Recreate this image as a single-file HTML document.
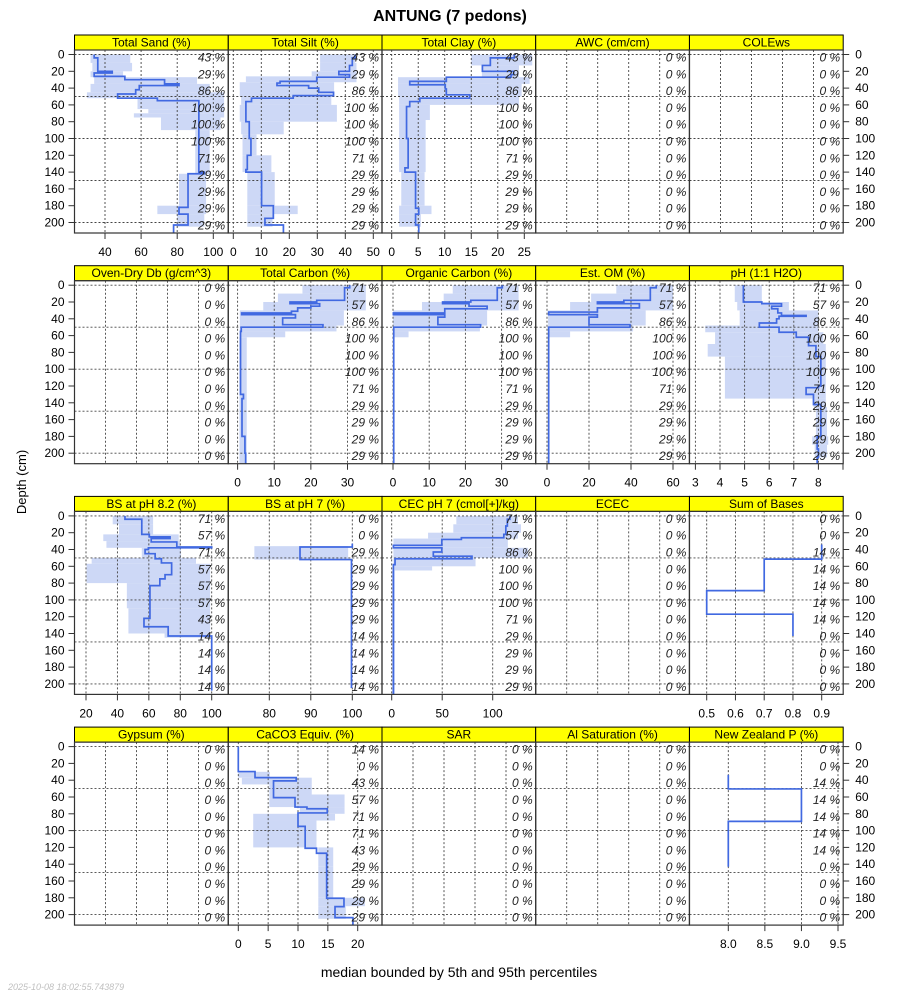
<!DOCTYPE html>
<html><head><meta charset="utf-8">
<style>
html,body{margin:0;padding:0;background:#fff;}
svg{display:block;font-family:"Liberation Sans",sans-serif;}
</style></head>
<body>
<svg id="chart" width="900" height="1000" viewBox="0 0 900 1000">
<text x="450" y="21" text-anchor="middle" font-size="16" font-weight="bold">ANTUNG (7 pedons)</text>
<text x="26" y="482" text-anchor="middle" font-size="13" transform="rotate(-90 26 482)">Depth (cm)</text>
<text x="459" y="977" text-anchor="middle" font-size="14">median bounded by 5th and 95th percentiles</text>
<text x="8" y="990" font-size="9" fill="#c0c0c0" font-style="italic">2025-10-08 18:02:55.743879</text>
<g id="panels"></g>
</svg>
<script>
// ---- data (depth breaks in cm, values) ----
const sandDepths=[0,4,13,20,22,26,30,35,37,42,47,52,55,100,140,142,182,190,203,213];
const sandMedian=[34,36,36,44,34,51,73,81,59,57,47,69,92,92,95,86,81,86,78];
const sandBandDepths=[0,10,20,27,35,45,52,65,70,75,90,140,142,180,190,205];
const sandP05=[32,33,32,34,32,30,58,64,56,71,90,90,81,69,80];
const sandP95=[54,55,50,91,98,106,106,106,106,104,98,98,96,96,95];
const sandPct=[43,29,86,100,100,100,71,29,29,29,29];

const siltDepths=[0,4,13,20,24,27,32,34,37,40,45,49,52,56,80,100,120,137,140,180,195,203,213];
const siltMedian=[43.5,42.5,41.5,37.7,41.5,29.8,16.7,15.6,26.9,30.5,35.8,21.4,6.5,4.5,5.7,6.3,5,4.5,10.1,14.3,11.3,17.9];
const siltBandDepths=[0,10,20,26,33,50,60,80,95,120,140,180,190,205];
const siltP05=[31,31,28,4.5,2.3,2.8,2.3,2.8,3.3,3.3,5,5,5];
const siltP95=[43.5,44,44,44,36,35,37,18,8.3,13.6,14.8,23,14];
const siltPct=[43,29,86,100,100,100,71,29,29,29,29];

const clayDepths=[0,4,13,20,24,27,32,36,41,48,52,56,62,100,135,140,183,190,203,213];
const clayMedian=[23.1,18.6,17.1,23,22.5,10.3,3.4,10.1,10.3,14.7,5.3,3.4,2.8,3.1,2.5,4.5,5.1,4.5,5.1];
const clayBandDepths=[0,13,27,35,50,60,78,140,180,190,205];
const clayP05=[15,17,1.2,1.2,1.4,1.4,1.4,1.8,1.4,1.4];
const clayP95=[26.5,24,26,24.5,24,7.2,6.4,6.2,7.5,5.5];
const clayPct=[43,29,86,100,100,100,71,29,29,29,29];

const tcDepths=[0,3,18,20,22,25,27,31,33,35,39,47,50,55,130,135,180,200,213];
const tcMedian=[30.6,29.2,21.6,14.3,22.4,20,16.4,14.7,1.1,15.8,12.3,23.3,1,0.8,1.6,1.2,2,2.2];
const tcBandDepths=[0,10,20,30,48,55,62,213];
const tcP05=[17.7,11,7,0.6,0.6,0.6,0.5];
const tcP95=[35,35,35,29,27,13,2.5];
const tcPct=[71,57,86,100,100,100,71,29,29,29,29];

const ocDepths=[0,3,18,20,22,25,28,33,35,38,47,50,213];
const ocMedian=[30.2,28.8,21.5,13.7,21,26,14.3,0.1,14.3,12.4,24.2,0.2];
const ocBandDepths=[0,10,20,30,48,55,62];
const ocP05=[16.5,14,8,0,0,0];
const ocP95=[34.7,34.7,34.7,26,24,4.3];
const ocPct=[71,57,86,100,100,100,71,29,29,29,29];

const omDepths=[0,3,18,20,22,27,32,35,38,47,50,213];
const omMedian=[52,49.2,36.6,24,44,24,0.8,24,20,39.5,0.8];
const omBandDepths=[0,10,20,30,48,55,62];
const omP05=[33,21,11,0.5,0.5,0.5];
const omP95=[60,60,60,47,41,11];
const omPct=[71,57,86,100,100,100,71,29,29,29,29];

const phDepths=[0,20,22,25,28,33,36,37,40,45,50,56,62,72,85,120,122,130,142,180,195,205,213];
const phMedian=[4.95,5.7,6.5,6.1,6.35,6.5,7.5,6.4,6.3,5.6,6.4,7.1,7.6,7.9,8.1,8.0,7.5,7.8,8.1,7.95,8.0,7.95];
const phBandDepths=[0,20,30,48,56,70,85,135,145,180,190,205];
const phP05=[4.6,4.7,4.8,3.4,3.8,3.5,4.2,7.8,7.9,7.75,7.85];
const phP95=[5.7,6.8,8.0,8.0,8.2,8.3,8.3,8.3,8.35,8.4,8.35];
const phPct=[71,57,86,100,100,100,71,29,29,29,29];

const bs82Depths=[0,4,22,25,27,31,37,38,40,45,51,56,70,75,83,122,132,143,208];
const bs82Median=[44.8,55.5,60.3,73.5,61.5,77.8,100,59.7,57.6,64,68,74.5,70.3,67,60.7,56.9,72.3,100];
const bs82BandDepths=[0,10,22,30,38,50,57,80,110,140,145];
const bs82P05=[37,41,31,33,55.5,23.6,20.4,46,47,70];
const bs82P95=[62.7,62.7,79,80,80.5,90,99,99,99,99];
const bs82Pct=[71,57,71,57,57,57,43,14,14,14,14];

const bs7Depths=[33,37,52,205];
const bs7Median=[100,87.4,99.8];
const bs7BandDepths=[36,52];
const bs7P05=[76.4];
const bs7P95=[99];
const bs7Pct=[0,0,29,29,29,29,29,14,14,14,14];

const cecDepths=[0,4,12,22,26,28,35,38,43,48,51,58,213];
const cecMedian=[117,114.5,113,111,69,49.6,1.7,49.6,41.2,79.5,3.3,1.7];
const cecBandDepths=[0,10,20,27,38,50,60,65,213];
const cecP05=[64,61,36,1.7,1.7,1.7,2.5,0.5];
const cecP95=[125,128,125,115,135,83,40,3];
const cecPct=[71,57,86,100,100,100,71,29,29,29,29];

const sobDepths=[34,51.5,89,117,143];
const sobMedian=[0.9,0.7,0.5,0.8];
const sobPct=[0,0,14,14,14,14,14,0,0,0,0];

const caco3Depths=[0,29.7,36.9,40.8,60.7,72,74,79,95,121,127,180.5,190.5,203.6,213];
const caco3Median=[0,2.8,9.7,5.9,9.5,11.5,14.9,10,11.2,13.1,14.8,17.7,16.2,19.2];
const caco3BandDepths=[30,37,45,57,72,80,88,120,143,180,190,205];
const caco3P05=[0,0.6,5.2,5.2,10.3,2.5,2.5,13.4,13.4,13.4,13.4];
const caco3P95=[5.3,12.3,12.3,17.8,17.8,16.2,13.1,15.9,15.9,21.2,18];
const caco3Pct=[14,0,43,57,71,71,43,29,29,29,29];

const nzpDepths=[33.7,50.4,89,143];
const nzpMedian=[8,9,8];
const nzpPct=[0,0,14,14,14,14,14,0,0,0,0];

const zeroPct=[0,0,0,0,0,0,0,0,0,0,0];
const depthTicks=[0,20,40,60,80,100,120,140,160,180,200];
const depthGrid=[0,50,100,150,200];

// ---- layout ----
const colX=[74.5,228.3,382,535.7,689.5], colW=153.7;
const rowT=[35,265.7,496.4,727.1];
const stripH=15, panelH=183;

const panels=[
 {key:'total-sand',title:'Total Sand (%)',c:0,r:0,sc:[40,105,100,213.3],ticks:[40,60,80,100],lab:true,d:sandDepths,m:sandMedian,bd:sandBandDepths,lo:sandP05,hi:sandP95,pct:sandPct},
 {key:'total-silt',title:'Total Silt (%)',c:1,r:0,sc:[0,233.3,50,373.3],ticks:[0,10,20,30,40,50],lab:true,d:siltDepths,m:siltMedian,bd:siltBandDepths,lo:siltP05,hi:siltP95,pct:siltPct},
 {key:'total-clay',title:'Total Clay (%)',c:2,r:0,sc:[0,391.7,25,524.3],ticks:[0,5,10,15,20,25],lab:true,d:clayDepths,m:clayMedian,bd:clayBandDepths,lo:clayP05,hi:clayP95,pct:clayPct},
 {key:'awc',title:'AWC (cm/cm)',c:3,r:0,pct:zeroPct},
 {key:'colews',title:'COLEws',c:4,r:0,pct:zeroPct},
 {key:'oven-dry-db',title:'Oven-Dry Db (g/cm^3)',c:0,r:1,pct:zeroPct},
 {key:'total-carbon',title:'Total Carbon (%)',c:1,r:1,sc:[0,237.6,30,347.5],ticks:[0,10,20,30],lab:true,d:tcDepths,m:tcMedian,bd:tcBandDepths,lo:tcP05,hi:tcP95,pct:tcPct},
 {key:'organic-carbon',title:'Organic Carbon (%)',c:2,r:1,sc:[0,393,30,501.6],ticks:[0,10,20,30],lab:true,d:ocDepths,m:ocMedian,bd:ocBandDepths,lo:ocP05,hi:ocP95,pct:ocPct},
 {key:'est-om',title:'Est. OM (%)',c:3,r:1,sc:[0,547,60,673],ticks:[0,20,40,60],lab:true,d:omDepths,m:omMedian,bd:omBandDepths,lo:omP05,hi:omP95,pct:omPct},
 {key:'ph',title:'pH (1:1 H2O)',c:4,r:1,sc:[3,695.4,8,818.4],ticks:[3,4,5,6,7,8,9],tl:['3','4','5','6','7','8',''],lab:true,d:phDepths,m:phMedian,bd:phBandDepths,lo:phP05,hi:phP95,pct:phPct},
 {key:'bs-ph82',title:'BS at pH 8.2 (%)',c:0,r:2,sc:[20,86,100,211.7],ticks:[20,40,60,80,100],lab:true,d:bs82Depths,m:bs82Median,bd:bs82BandDepths,lo:bs82P05,hi:bs82P95,pct:bs82Pct},
 {key:'bs-ph7',title:'BS at pH 7 (%)',c:1,r:2,sc:[80,269.3,100,352.3],ticks:[80,90,100],lab:true,d:bs7Depths,m:bs7Median,bd:bs7BandDepths,lo:bs7P05,hi:bs7P95,pct:bs7Pct},
 {key:'cec-ph7',title:'CEC pH 7 (cmol[+]/kg)',c:2,r:2,sc:[0,391.7,100,492.7],ticks:[0,50,100],lab:true,d:cecDepths,m:cecMedian,bd:cecBandDepths,lo:cecP05,hi:cecP95,pct:cecPct},
 {key:'ecec',title:'ECEC',c:3,r:2,pct:zeroPct},
 {key:'sum-of-bases',title:'Sum of Bases',c:4,r:2,sc:[0.5,706.7,0.9,821.7],ticks:[0.5,0.6,0.7,0.8,0.9],tl:['0.5','0.6','0.7','0.8','0.9'],lab:true,d:sobDepths,m:sobMedian,pct:sobPct},
 {key:'gypsum',title:'Gypsum (%)',c:0,r:3,pct:zeroPct},
 {key:'caco3',title:'CaCO3 Equiv. (%)',c:1,r:3,sc:[0,238.3,20,357.7],ticks:[0,5,10,15,20],lab:true,d:caco3Depths,m:caco3Median,bd:caco3BandDepths,lo:caco3P05,hi:caco3P95,pct:caco3Pct},
 {key:'sar',title:'SAR',c:2,r:3,pct:zeroPct},
 {key:'al-saturation',title:'Al Saturation (%)',c:3,r:3,pct:zeroPct},
 {key:'nz-p',title:'New Zealand P (%)',c:4,r:3,sc:[8,728.3,9.5,838],ticks:[8,8.5,9,9.5],tl:['8.0','8.5','9.0','9.5'],lab:true,d:nzpDepths,m:nzpMedian,pct:nzpPct}
];

const NS='http://www.w3.org/2000/svg';
const root=document.getElementById('panels');
function mk(tag,attrs,parent){const e=document.createElementNS(NS,tag);for(const k in attrs)e.setAttribute(k,attrs[k]);(parent||root).appendChild(e);return e;}

panels.forEach((p,i)=>{
  const L=colX[p.c], T=rowT[p.r], PT=T+stripH, R=L+colW, B=PT+panelH;
  const y=d=>T+19.5+0.84*d;
  const x=p.sc?(v=>p.sc[1]+(v-p.sc[0])*(p.sc[3]-p.sc[1])/(p.sc[2]-p.sc[0])):null;
  const g=mk('g',{});
  
  
  const clip=mk('clipPath',{id:'clip'+i},g);
  mk('rect',{x:L,y:PT,width:colW,height:panelH},clip);
  const strip=mk('rect',{x:L,y:T,width:colW,height:stripH,fill:'#ffff00',stroke:'#000','stroke-width':1},g);
  
  
  const st=mk('text',{x:L+colW/2,y:T+11.5,'text-anchor':'middle','font-size':12},g);
  st.textContent=p.title;
  
  
  const body=mk('g',{'clip-path':'url(#clip'+i+')'},g);
  if(p.bd){p.lo.forEach((lo,j)=>{
    const r=mk('rect',{x:x(lo),y:y(p.bd[j]),width:Math.max(0,x(p.hi[j])-x(lo)),height:y(p.bd[j+1])-y(p.bd[j]),fill:'#cdd8f6'},body);
    
    
  });}
  const gx=p.ticks?p.ticks.map(x):[1,2,3,4].map(k=>L+31*k);
  gx.forEach(px=>{if(px>L+1&&px<R-1)mk('line',{x1:px,x2:px,y1:PT,y2:B,stroke:'#444','stroke-width':0.9,'stroke-dasharray':'2,2'},body);});
  depthGrid.forEach(d=>mk('line',{x1:L,x2:R,y1:y(d),y2:y(d),stroke:'#444','stroke-width':0.9,'stroke-dasharray':'2,2'},body));
  if(p.d){let s='';p.m.forEach((v,j)=>{s+=(j===0?'M'+x(v)+' '+y(p.d[0]):' H'+x(v))+' V'+y(p.d[j+1]);});
    const path=mk('path',{d:s,fill:'none',stroke:'#4169e1','stroke-width':1.7},body);
    
    
  }
  p.pct.forEach((v,j)=>{const t=mk('text',{x:R-3,y:y(depthTicks[j])+7,'text-anchor':'end','font-size':12,'font-style':'italic',fill:'#222'},body);
    t.textContent=v+' %';
    
    });
  mk('rect',{x:L,y:PT,width:colW,height:panelH,fill:'none',stroke:'#333','stroke-width':1.2},g);
  if(p.ticks&&p.lab){p.ticks.forEach((tv,j)=>{const px=x(tv);
    mk('line',{x1:px,x2:px,y1:B,y2:B+6,stroke:'#333'},g);
    const t=mk('text',{x:px,y:B+23,'text-anchor':'middle','font-size':12},g);
    t.textContent=p.tl?p.tl[j]:String(tv);
    
    });}
  if(p.c===0){depthTicks.forEach(d=>{mk('line',{x1:L-6,x2:L,y1:y(d),y2:y(d),stroke:'#333'},g);
    const t=mk('text',{x:L-10,y:y(d)+4,'text-anchor':'end','font-size':12},g);t.textContent=d;
    
    });}
  if(p.c===4){depthTicks.forEach(d=>{mk('line',{x1:R,x2:R+6,y1:y(d),y2:y(d),stroke:'#333'},g);
    const t=mk('text',{x:R+12,y:y(d)+4,'text-anchor':'start','font-size':12},g);t.textContent=d;
    
    });}
});
</script>
</body></html>
